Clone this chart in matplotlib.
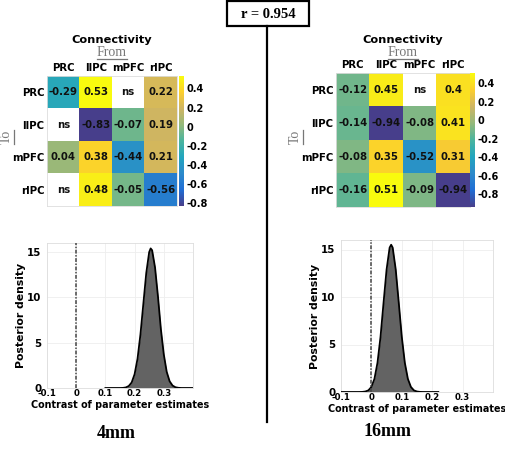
# IMPORTS
import matplotlib
matplotlib.use("Agg")
import matplotlib.pyplot as plt
import numpy as np
from matplotlib.colors import LinearSegmentedColormap, to_rgb
from matplotlib.lines import Line2D
from matplotlib.patches import Rectangle

# DATA
regions = ["PRC", "lIPC", "mPFC", "rIPC"]
ns = np.nan

conn_4mm = [
    [-0.29, 0.53, ns, 0.22],
    [ns, -0.83, -0.07, 0.19],
    [0.04, 0.38, -0.44, 0.21],
    [ns, 0.48, -0.05, -0.56],
]
conn_16mm = [
    [-0.12, 0.45, ns, 0.4],
    [-0.14, -0.94, -0.08, 0.41],
    [-0.08, 0.35, -0.52, 0.31],
    [-0.16, 0.51, -0.09, -0.94],
]
cbar_ticks = [0.4, 0.2, 0, -0.2, -0.4, -0.6, -0.8]

# posterior density
post_x_4mm = [0.10, 0.11, 0.12, 0.13, 0.14, 0.15, 0.16, 0.17, 0.18, 0.19, 0.20, 0.21,
              0.22, 0.23, 0.24, 0.25, 0.255, 0.26, 0.27, 0.28, 0.29, 0.30, 0.31, 0.32,
              0.33, 0.34, 0.35, 0.36, 0.37, 0.38, 0.39, 0.40]
post_y_4mm = [0, 0, 0, 0, 0, 0, 0.01, 0.06, 0.22, 0.61, 1.52, 3.22,
              5.9, 9.3, 12.7, 15.0, 15.4, 15.2, 13.3, 10.1, 6.5, 3.7, 1.78, 0.74,
              0.27, 0.08, 0.02, 0, 0, 0, 0, 0]
post_x_16mm = [-0.10, -0.09, -0.08, -0.07, -0.06, -0.05, -0.04, -0.03, -0.02, -0.01,
               0.00, 0.01, 0.02, 0.03, 0.04, 0.05, 0.06, 0.065, 0.07, 0.08, 0.09, 0.10,
               0.11, 0.12, 0.13, 0.14, 0.15, 0.16, 0.17, 0.18, 0.19, 0.20, 0.21, 0.22]
post_y_16mm = [0, 0, 0, 0, 0, 0, 0, 0.01, 0.05, 0.17,
               0.53, 1.38, 3.07, 5.8, 9.4, 12.9, 15.2, 15.5, 15.2, 12.9, 9.4, 5.8,
               3.07, 1.38, 0.53, 0.17, 0.05, 0.01, 0, 0, 0, 0, 0, 0]
x_ticks = [-0.1, 0, 0.1, 0.2, 0.3]
y_ticks = [0, 5, 10, 15]
r_value = 0.954
panel_names = ["4mm", "16mm"]

# STYLE
W, H = 506, 450
_anchors = ["#352a87", "#0363e1", "#1485d4", "#06a7c6", "#38b99e",
            "#92bf73", "#d9ba56", "#fcce2e", "#f9fb0e"]
# slightly washed out, like the reference
_muted = [tuple(0.82 * c + 0.18 * 0.62 for c in to_rgb(a)) for a in _anchors[:-2]]
_muted += [to_rgb(a) for a in _anchors[-2:]]
PARULA = LinearSegmentedColormap.from_list("parula_muted", _muted)
PARULA.set_bad("white")
SANS = "DejaVu Sans"
SERIF = "Liberation Serif"


# PIXEL BOX -> FIGURE FRACTION
def _box(x0, y0, x1, y1):
    return [x0 / W, 1 - y1 / H, (x1 - x0) / W, (y1 - y0) / H]


def _underline(fig, txt, vertical=False):
    fig.canvas.draw()
    bb = txt.get_window_extent().transformed(fig.transFigure.inverted())
    if vertical:
        x = bb.x1 + 0.002
        fig.add_artist(Line2D([x, x], [bb.y0, bb.y1], color="#777777", lw=0.9,
                              transform=fig.transFigure))
    else:
        y = bb.y0 + 0.002
        fig.add_artist(Line2D([bb.x0, bb.x1], [y, y], color="#777777", lw=0.9,
                              transform=fig.transFigure))


def draw_heatmap(fig, data, hm_box, cb_box, cx, to_x):
    arr = np.array(data, dtype=float)
    ax = fig.add_axes(_box(*hm_box))
    im = ax.imshow(np.ma.masked_invalid(arr), cmap=PARULA, aspect="auto",
                   vmin=np.nanmin(arr), vmax=np.nanmax(arr))
    for i in range(arr.shape[0]):
        for j in range(arr.shape[1]):
            label = "ns" if np.isnan(arr[i, j]) else f"{arr[i, j]:g}"
            ax.text(j, i, label, ha="center", va="center", fontsize=7.3,
                    fontweight="bold", family=SANS, color="#111111")
    ax.set_xticks(range(len(regions)))
    ax.set_xticklabels(regions, fontsize=7.3, fontweight="bold", family=SANS)
    ax.xaxis.tick_top()
    ax.set_yticks(range(len(regions)))
    ax.set_yticklabels(regions, fontsize=7.3, fontweight="bold", family=SANS)
    ax.tick_params(length=0, pad=2)
    for s in ax.spines.values():
        s.set_color("#dddddd")
        s.set_linewidth(0.6)

    cax = fig.add_axes(_box(*cb_box))
    cb = fig.colorbar(im, cax=cax, ticks=cbar_ticks)
    cb.outline.set_visible(False)
    cax.tick_params(length=0, pad=2)
    cax.set_yticklabels([f"{t:g}" for t in cbar_ticks], fontsize=7,
                        fontweight="bold", family=SANS)

    # titles
    fig.text(cx / W, 1 - 40 / H, "Connectivity", ha="center", va="center",
             fontsize=8.2, fontweight="bold", family=SANS)
    t_from = fig.text(cx / W, 1 - 53 / H, "From", ha="center", va="center",
                      fontsize=10, family=SERIF, color="#777777")
    _underline(fig, t_from)
    t_to = fig.text(to_x / W, 1 - 137 / H, "To", ha="center", va="center",
                    rotation=90, fontsize=10, family=SERIF, color="#777777")
    _underline(fig, t_to, vertical=True)


def draw_posterior(fig, xs, ys, ax_box):
    ax = fig.add_axes(_box(*ax_box))
    ax.set_axisbelow(True)
    ax.fill_between(xs, 0, ys, color="#636363", lw=0, zorder=2)
    ax.plot(xs, ys, color="black", lw=1.3, zorder=3)
    ax.axvline(0, color="#444444", lw=1.1, ls=(0, (2.5, 1, 1, 1)), zorder=4)
    ax.set_xlim(-0.1, 0.4)
    ax.set_ylim(0, 16)
    ax.set_xticks(x_ticks)
    ax.set_xticklabels([f"{t:g}" for t in x_ticks], fontsize=6.2,
                       fontweight="bold", family=SANS)
    ax.set_yticks(y_ticks)
    ax.set_yticklabels([str(t) for t in y_ticks], fontsize=7.4,
                       fontweight="bold", family=SANS)
    ax.tick_params(length=0, pad=1)
    ax.tick_params(axis="y", pad=4)
    ax.grid(color="#eeeeee", lw=0.6, zorder=0)
    for s in ax.spines.values():
        s.set_color("#dddddd")
        s.set_linewidth(0.6)
    ax.set_ylabel("Posterior density", fontsize=7.8, fontweight="bold",
                  family=SANS, labelpad=1)
    ax.set_xlabel("Contrast of parameter estimates", fontsize=6.9,
                  fontweight="bold", family=SANS, labelpad=1)
    return ax


# FIGURE
fig = plt.figure(figsize=(W / 100, H / 100), dpi=100)

draw_heatmap(fig, conn_4mm, (47, 76, 177, 206), (179, 76, 184, 206), 112, 6)
draw_heatmap(fig, conn_16mm, (336, 73, 470, 207), (470, 73, 475, 207), 403, 295)

draw_posterior(fig, post_x_4mm, post_y_4mm, (47, 243, 193, 388))
draw_posterior(fig, post_x_16mm, post_y_16mm, (341, 240, 493, 392))

# panel names
fig.text(116 / W, 1 - 433 / H, panel_names[0], ha="center", va="center",
         fontsize=13, fontweight="bold", family=SERIF)
fig.text(388 / W, 1 - 432 / H, panel_names[1], ha="center", va="center",
         fontsize=13, fontweight="bold", family=SERIF)

# divider + r box
fig.add_artist(Line2D([267 / W, 267 / W], [1 - 26 / H, 1 - 422 / H], color="black",
                      lw=1.6, transform=fig.transFigure))
fig.add_artist(Rectangle((227 / W, 1 - 26 / H), 82 / W, 25 / H, facecolor="white",
                         edgecolor="black", lw=1.6, transform=fig.transFigure))
fig.text(268 / W, 1 - 14 / H, f"r = {r_value}", ha="center", va="center",
         fontsize=10.5, fontweight="bold", family=SERIF)

fig.savefig("out.png", dpi=100)
plt.close(fig)
